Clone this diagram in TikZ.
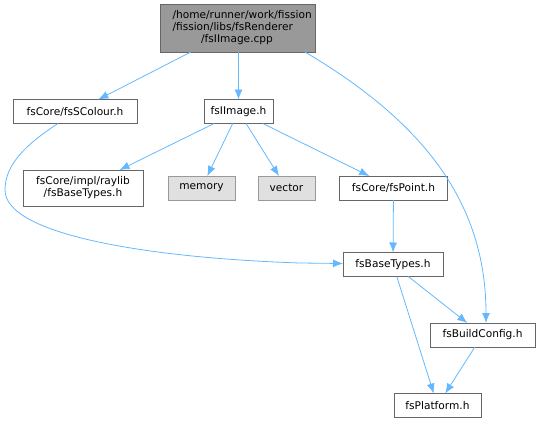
\documentclass[tikz,border=0pt]{standalone}
\usepackage{fontspec}
\setmainfont{DejaVu Sans}
\usetikzlibrary{arrows.meta}
\definecolor{edgeblue}{HTML}{63B8FF}
\definecolor{boxborder}{HTML}{666666}
\definecolor{rootfill}{HTML}{999999}
\definecolor{sysfill}{HTML}{E0E0E0}
\definecolor{sysborder}{HTML}{999999}
\begin{document}
\begin{tikzpicture}[x=1pt,y=-1pt,
  every node/.style={font=\fontsize{10.6}{12}\selectfont, inner sep=0pt, outer sep=0pt},
  filebox/.style={draw=boxborder, fill=white, line width=0.8pt, minimum height=24pt, align=center},
  sysbox/.style={draw=sysborder, fill=sysfill, line width=0.8pt, minimum height=24pt, align=center},
  rootbox/.style={draw=boxborder, fill=rootfill, line width=0.8pt, minimum height=48pt},
  dep/.style={draw=edgeblue, line width=0.8pt, -{Latex[length=10pt,width=8pt]}}
]
\useasboundingbox (0,0) rectangle (540,423);

\node[rootbox, minimum width=155pt, text width=130pt, align=left] (root) at (237.5,28)
  {/home/runner/work/fission\\/fission/libs/fsRenderer\\\makebox[\linewidth][c]{\hspace*{-1pt}/fsIImage.cpp}};
\node[filebox, minimum width=124pt] (scol) at (75,111.5) {fsCore/fsSColour.h};
\node[filebox, minimum width=69pt] (iimg) at (238.5,111.5) {fsIImage.h};
\node[filebox, minimum width=120pt, minimum height=36pt] (raylib) at (83,188) {fsCore/impl/raylib\\/fsBaseTypes.h};
\node[sysbox, minimum width=67pt] (memory) at (201.5,188) {memory};
\node[sysbox, minimum width=57pt] (vector) at (286.5,188) {vector};
\node[filebox, minimum width=108pt] (point) at (393.5,188) {fsCore/fsPoint.h};
\node[filebox, minimum width=100pt] (base) at (393,264.5) {fsBaseTypes.h};
\node[filebox, minimum width=105pt] (build) at (482.5,335) {fsBuildConfig.h};
\node[filebox, minimum width=87pt] (plat) at (437.5,405.5) {fsPlatform.h};

\draw[dep] (root) -- (scol);
\draw[dep] (root.south -| iimg) -- (iimg);
\draw[dep] ([xshift=-10pt]root.south east) .. controls (420,120) and (486,200) .. ([xshift=3.5pt]build.north);
\draw[dep] ([xshift=-17pt]scol.south) .. controls (25,145) and (5,165) .. (5,190)
  .. controls (5,235) and (150,258) .. (300,263) -- (base.west |- 0,263.5);
\draw[dep] (iimg) -- (raylib);
\draw[dep] (iimg) -- (memory);
\draw[dep] (iimg) -- (vector);
\draw[dep] (iimg) -- (point);
\draw[dep] (point) -- (base);
\draw[dep] (base) -- (plat);
\draw[dep] (base) -- (build);
\draw[dep] (build) -- (plat);
\end{tikzpicture}
\end{document}
